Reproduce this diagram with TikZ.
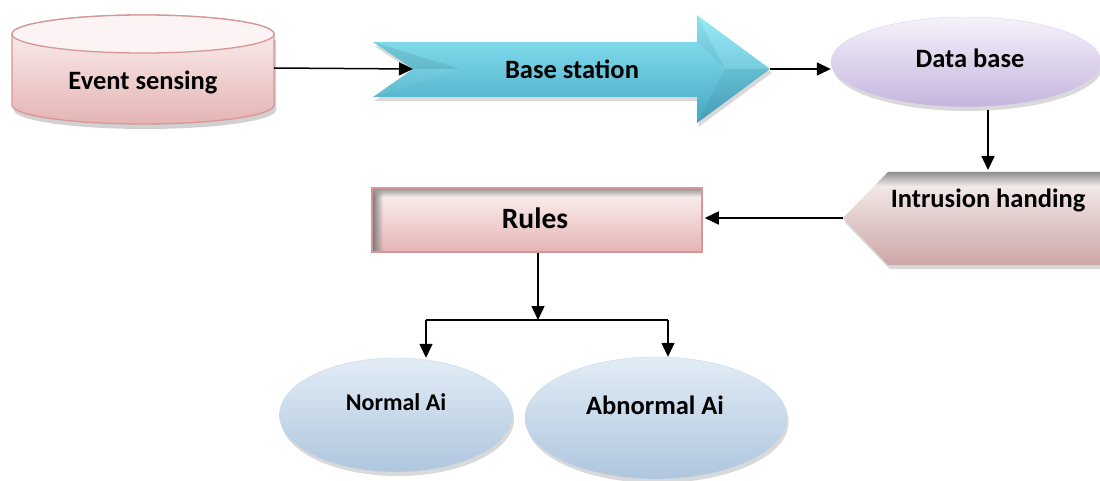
\documentclass[tikz,border=0pt]{standalone}
\usepackage{fontspec}
\setmainfont{Carlito}
\usetikzlibrary{shapes.geometric,arrows.meta,shadows,fadings,calc}
\definecolor{pinkTop}{HTML}{FCF4F4}
\definecolor{pinkBot}{HTML}{E6B4B4}
\definecolor{pinkEdge}{HTML}{D99696}
\definecolor{cyTop}{HTML}{92EAF8}
\definecolor{cyMid}{HTML}{5DC5DD}
\definecolor{cyBot}{HTML}{46A6C2}
\definecolor{lavTop}{HTML}{F6F2FB}
\definecolor{lavBot}{HTML}{C5B5DE}
\definecolor{lavEdge}{HTML}{DCD4EA}
\definecolor{ihMid}{HTML}{FAF3F3}
\definecolor{ihBot}{HTML}{CCA6A6}
\definecolor{blTop}{HTML}{E2ECF6}
\definecolor{blBot}{HTML}{AFC6DE}
\definecolor{blEdge}{HTML}{C8D8E8}
\begin{document}
\begin{tikzpicture}[x=1pt,y=-1pt,
  conn/.style={line width=1.5pt,-{Triangle[length=14pt,width=13pt]}},
  lbl/.style={font=\fontsize{26.5}{30}\selectfont\bfseries,inner sep=0pt},
  shadowed/.style={drop shadow={opacity=0.3,shadow xshift=1.5pt,shadow yshift=-4pt}},
  oval/.style={ellipse,inner sep=0pt,shadowed}]
\useasboundingbox (0,0) rectangle (1100,481);

% Event sensing cylinder
\fill[black,opacity=0.18] (14,40) -- (14,110) arc[start angle=180,end angle=0,x radius=131,y radius=19] -- (276,40) -- cycle;
\draw[draw=pinkEdge,line width=1.3pt,top color=pinkTop,bottom color=pinkBot]
  (12,34) -- (12,105) arc[start angle=180,end angle=0,x radius=131,y radius=19]
  -- (274,34) arc[start angle=0,end angle=-180,x radius=131,y radius=19] -- cycle;
\draw[draw=pinkEdge,line width=1.3pt,fill=pinkTop] (143,34) ellipse[x radius=131,y radius=19];
\node[lbl] (es) at (143,82) {Event sensing};
\coordinate (esR) at (274,68);

% Base station arrow
\path[shadowed,top color=cyTop,middle color=cyMid,bottom color=cyBot]
  (373,42) -- (697,42) -- (697,15) -- (770,69) -- (697,123) -- (697,97) -- (373,97) -- (413,69) -- cycle;
\fill[black,opacity=0.08] (373,42) -- (460,69) -- (413,69) -- cycle;
\fill[white,opacity=0.06] (373,97) -- (460,69) -- (413,69) -- cycle;
\fill[white,opacity=0.08] (697,15) -- (725,69) -- (770,69) -- cycle;
\fill[black,opacity=0.05] (697,123) -- (725,69) -- (770,69) -- cycle;
\fill[black,opacity=0.04] (697,15) -- (725,69) -- (697,42) -- cycle;
\coordinate (bsL) at (413,69);
\coordinate (bsR) at (770,69);
\node[lbl] (bs) at (572,69) {Base station};

% Data base
\node[oval,minimum width=270pt,minimum height=90pt,draw=lavEdge,top color=lavTop,bottom color=lavBot] (db) at (966,62) {};
\node[lbl] (dbt) at (970,58) {Data base};

% Intrusion handing
\path[shadowed,top color=ihMid,bottom color=ihBot]
  (843,218) -- (888,172) -- (1110,172) -- (1110,265) -- (888,265) -- cycle;
\fill[black!45,path fading=south] (888,172) -- (1110,172) -- (1110,186) -- (874,186) -- cycle;
\coordinate (ihL) at (843,218);
\coordinate (ihT) at (988,170);
\node[lbl] (ih) at (988,200) {Intrusion handing};

% Rules
\node[rectangle,minimum width=330pt,minimum height=64pt,draw=pinkEdge,line width=1.5pt,
  top color=pinkTop,bottom color=pinkBot,inner sep=0pt] (ru) at (537,220) {};
\fill[black!50,path fading=east] (373,189) rectangle (383,251);
\fill[black!40,path fading=south] (373,189) rectangle (701,197);
\node[lbl,font=\fontsize{29.5}{33}\selectfont\bfseries] (rut) at (535,218) {Rules};

% Outcomes
\node[oval,minimum width=233pt,minimum height=114pt,draw=blEdge,top color=blTop,bottom color=blBot] (na) at (396,415) {};
\node[lbl,font=\fontsize{24}{28}\selectfont\bfseries] (nat) at (396,402) {Normal Ai};
\node[oval,minimum width=262pt,minimum height=122pt,draw=blEdge,top color=blTop,bottom color=blBot] (ab) at (656,418) {};
\node[lbl] (abt) at (655,405) {Abnormal Ai};

% Connectors
\draw[conn] (esR) -- (bsL);
\draw[conn] (bsR) -- (bsR -| db.west);
\draw[conn,shorten <=3pt] (db.south -| ihT) -- (ihT);
\draw[conn,shorten >=2pt] (ihL) -- (ihL -| ru.east);
\coordinate (j) at (538,320);
\coordinate (jl) at (426,320);
\coordinate (jr) at (668,320);
\draw[conn] (ru.south -| j) -- (j);
\draw[line width=1.5pt] (jl) -- (jr);
\draw[conn] (jl) -- (jl |- na.north);
\draw[conn] (jr) -- (jr |- ab.north);
\end{tikzpicture}
\end{document}
